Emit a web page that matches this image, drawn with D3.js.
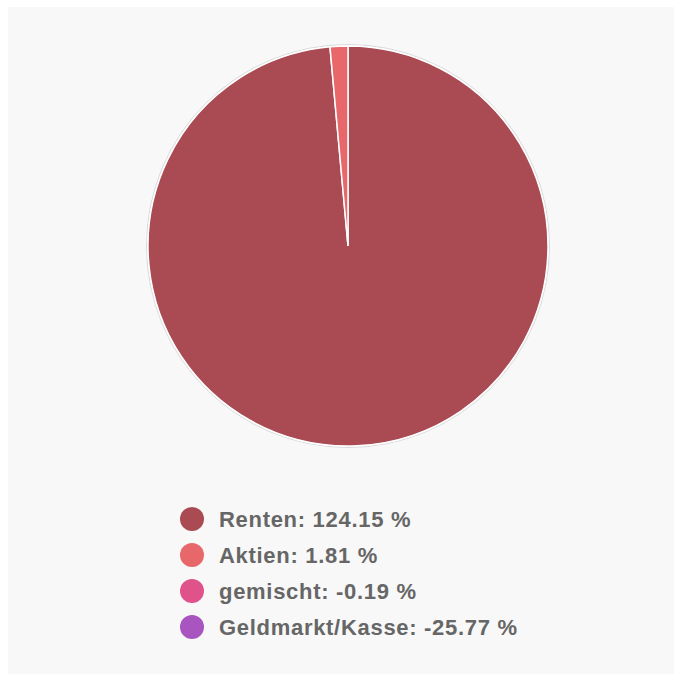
<!DOCTYPE html>
<html>
<head>
<meta charset="utf-8">
<script src="https://cdn.jsdelivr.net/npm/d3@7"></script>
<style>
  body { margin: 0; background: #fff; }
  svg { display: block; }
</style>
</head>
<body>
<svg id="chart" width="682" height="682"></svg>
<script>
var categories = ["Renten", "Aktien", "gemischt", "Geldmarkt/Kasse"];
var values = [124.15, 1.81, -0.19, -25.77];
var colors = ["#aa4a53", "#e8676a", "#e0528a", "#a855c0"];

var svg = d3.select("#chart");

svg.append("rect")
  .attr("x", 8).attr("y", 7)
  .attr("width", 666).attr("height", 667)
  .attr("fill", "#f8f8f8");

var cx = 348, cy = 246, r = 200;

var data = categories.map(function(c, i) { return { name: c, value: values[i], color: colors[i] }; });

// nur positive Werte im Kuchen
var pie = d3.pie().sort(null).value(function(d) { return d.value > 0 ? d.value : 0; });
var arc = d3.arc().innerRadius(0).outerRadius(r);

var g = svg.append("g").attr("transform", "translate(" + cx + "," + cy + ")");

g.append("circle")
  .attr("r", r + 1.5)
  .attr("fill", "none")
  .attr("stroke", "#d0d0d0")
  .attr("stroke-width", 0.8);

g.selectAll("path")
  .data(pie(data).filter(function(d) { return d.data.value > 0; }))
  .enter().append("path")
  .attr("d", arc)
  .attr("fill", function(d) { return d.data.color; })
  .attr("stroke", "#fff")
  .attr("stroke-width", 1.5);

var legend = svg.append("g").attr("transform", "translate(192,519)");

var y = d3.scaleLinear().domain([0, 1]).range([0, 36]);

var item = legend.selectAll("g.item")
  .data(data)
  .enter().append("g")
  .attr("class", "item")
  .attr("transform", function(d, i) { return "translate(0," + y(i) + ")"; });

item.append("circle")
  .attr("r", 12)
  .attr("fill", function(d) { return d.color; });

item.append("text")
  .attr("x", 27)
  .attr("dy", "0.36em")
  .attr("fill", "#666")
  .style("font-family", "'Liberation Sans', Arial, sans-serif")
  .style("font-weight", "bold")
  .style("font-size", "22px")
  .style("letter-spacing", "0.7px")
  .text(function(d) { return d.name + ": " + d.value.toFixed(2) + " %"; });
</script>
</body>
</html>
